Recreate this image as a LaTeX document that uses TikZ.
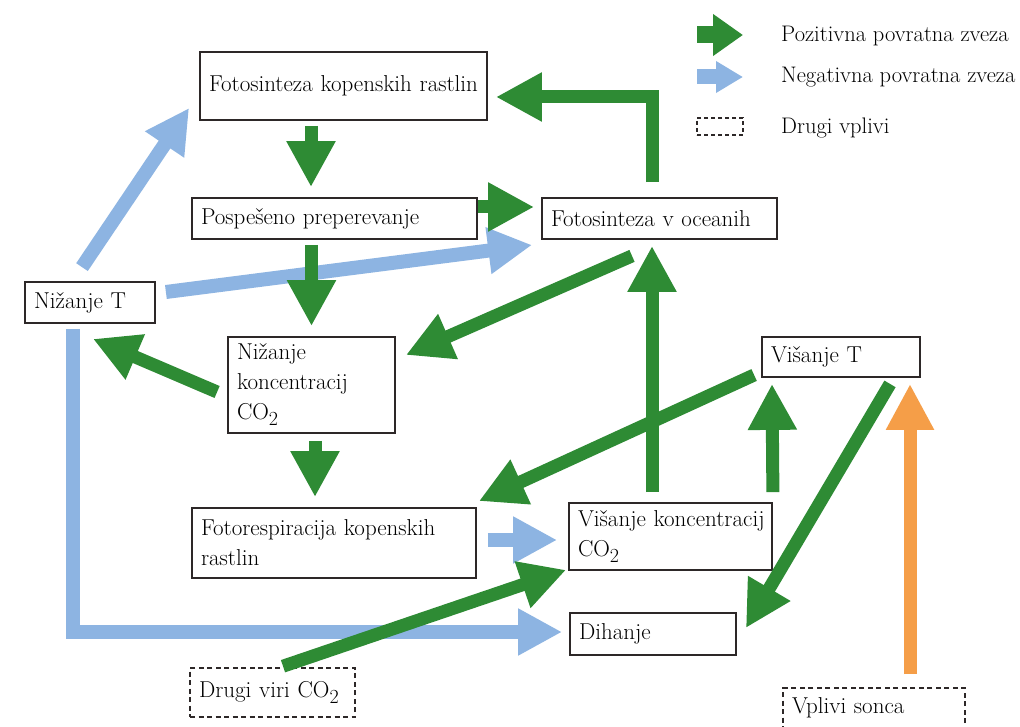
\documentclass[tikz,border=0pt]{standalone}
\usepackage{fontspec}
\usetikzlibrary{arrows.meta,calc}
\definecolor{gr}{RGB}{46,139,52}
\definecolor{bl}{RGB}{141,180,226}
\definecolor{orng}{RGB}{245,158,72}
\definecolor{bord}{RGB}{45,40,40}
\newcommand{\cotwo}{CO\raisebox{-6pt}{\fontsize{20}{20}\selectfont 2}}
\begin{document}
\begin{tikzpicture}[x=1pt,y=-1pt,
  box/.style={draw=bord, line width=1.8pt, inner xsep=9pt, inner ysep=3pt, align=left, font=\fontsize{23}{30}\selectfont},
  dbox/.style={box, dash pattern=on 5pt off 3.5pt, line width=1.6pt},
  garrow/.style={draw=gr, line width=13pt, -{Triangle[width=46pt,length=46pt]}},
  barrow/.style={draw=bl, line width=14pt, -{Triangle[width=44pt,length=44pt]}},
  oarrow/.style={draw=orng, line width=13pt, -{Triangle[width=45pt,length=46pt]}},
  legtext/.style={anchor=west, inner sep=0pt, font=\fontsize{22.5}{26}\selectfont}
]
\useasboundingbox (0,0) rectangle (1020,727);
\clip (0,0) rectangle (1020,727);
\fill[white] (0,0) rectangle (1020,727);

% boxes
\node[box, minimum width=287pt, minimum height=68pt, text width=269pt] (fk) at (343.5,86) {Fotosinteza kopenskih rastlin};
\node[box, minimum width=285pt, minimum height=41pt, text width=267pt] (pp) at (334.5,218.5) {Pospešeno preperevanje};
\node[box, minimum width=235pt, minimum height=41pt, text width=217pt] (fo) at (659.5,218.5) {Fotosinteza v oceanih};
\node[box, minimum width=130pt, minimum height=41pt, text width=112pt] (nt) at (90,302.5) {Nižanje T};
\node[box, minimum width=167pt, minimum height=96pt, text width=149pt] (nk) at (311.5,385) {Nižanje\\koncentracij\\\cotwo};
\node[box, minimum width=284pt, minimum height=70pt, text width=266pt] (fr) at (334,543) {\mbox{Fotorespiracija kopenskih}\\rastlin};
\node[box, minimum width=203pt, minimum height=67pt, text width=185pt] (vk) at (670.5,536.5) {\mbox{Višanje koncentracij}\\\cotwo};
\node[box, minimum width=166pt, minimum height=42pt, text width=148pt] (dh) at (653,634) {Dihanje};
\node[box, minimum width=158pt, minimum height=40pt, text width=140pt] (vt) at (841,357) {Višanje T};
\node[dbox, minimum width=165pt, minimum height=49pt, text width=147pt] (dv) at (272.5,692.5) {Drugi viri \cotwo};
\node[dbox, minimum width=182pt, minimum height=40pt, text width=164pt] (vs) at (874,708) {Vplivi sonca};

% legend
\coordinate (lga) at (697,35);
\coordinate (lgb) at (743,35);
\coordinate (lgc) at (697,77);
\coordinate (lgd) at (743,77);
\draw[draw=gr, line width=17pt, -{Triangle[width=40pt,length=30pt]}] (lga) -- (lgb);
\draw[draw=bl, line width=15pt, -{Triangle[width=30pt,length=27pt]}] (lgc) -- (lgd);
\node[draw=bord, line width=1.4pt, dash pattern=on 4pt off 3pt, minimum width=46pt, minimum height=17pt, inner sep=0pt] (lgbox) at (720,126.5) {};
\node[legtext] (lt1) at (781,36) {Pozitivna povratna zveza};
\node[legtext] (lt2) at (781,77) {Negativna povratna zveza};
\node[legtext] (lt3) at (781,128) {Drugi vplivi};

% blue arrows
\draw[barrow] ($(nt.north)+(-8,-14)$) -- ($(fk.west)+(-10,22)$);
\draw[barrow] ($(nt.east)+(10,-10.5)$) -- ($(fo.west)+(-9,26.5)$);
\draw[barrow] ($(fr.east)+(11,-3)$) -- ($(vk.west)+(-11,3.5)$);
\draw[barrow] ($(nt.south)+(-17,5)$) |- ($(dh.west)+(-7,-2)$);

% green arrows
\draw[garrow] ($(fk.south)+(-32.5,5)$) -- ($(pp.north)+(-23.5,-10)$);
\draw[garrow] ($(pp.east)+(0,-11.5)$) -- ($(fo.west)+(-7,-11.5)$);
\draw[garrow] ($(fo.north)+(-7.5,-15)$) |- ($(fk.east)+(8,11)$);
\draw[garrow] ($(pp.south)+(-23,5)$) -- ($(nk.north)+(0,-10)$);
\draw[garrow] ($(fo.south)+(-27.5,16)$) -- ($(nk.east)+(10,-30)$);
\draw[garrow] ($(nk.west)+(-10,7)$) -- ($(nt.south)+(3,15)$);
\draw[garrow] ($(nk.south)+(3.5,7)$) -- ($(fr.north)+(-19,-10)$);
\draw[garrow] ($(dv.north)+(10.5,-1)$) -- ($(vk.south west)+(-2,-1)$);
\draw[garrow] ($(vk.north)+(-18.5,-10)$) -- ($(fo.south)+(-7.5,6)$);
\draw[garrow] ($(vt.west)+(-7,18)$) -- ($(fr.north east)+(2,-6)$);
\draw[garrow] ($(vk.north east)+(0,-10)$) -- ($(vt.south)+(-69,6)$);
\draw[garrow] ($(vt.south)+(49,6)$) -- ($(dh.east)+(9,-6)$);

% orange arrow
\draw[oarrow] ($(vs.north)+(36,-13)$) -- ($(vt.south)+(69,6)$);
\end{tikzpicture}
\end{document}
